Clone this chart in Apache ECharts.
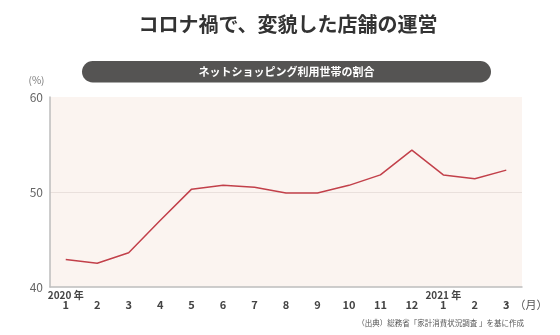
<!DOCTYPE html>
<html>
<head>
<meta charset="utf-8">
<script src="https://cdn.jsdelivr.net/npm/echarts@6/dist/echarts.min.js"></script>
<style>
html,body{margin:0;padding:0;background:#fff;}
#c{width:560px;height:335px;}
</style>
</head>
<body>
<div id="c"></div>
<script>
var titleText = 'コロナ禍で、変貌した店舗の運営';
var subtitleText = 'ネットショッピング利用世帯の割合';
var months = ['1','2','3','4','5','6','7','8','9','10','11','12','1','2','3'];
var yearLabels = ['2020 年','','','','','','','','','','','','2021 年','',''];
var shareValues = [42.9, 42.5, 43.6, 47.0, 50.3, 50.7, 50.5, 49.9, 49.9, 50.7, 51.8, 54.4, 51.8, 51.4, 52.3];
var yTicks = [40, 50, 60];
var unitY = '(%)';
var unitX = '（月）';
var sourceText = '（出典）総務省「家計消費状況調査 」を基に作成';

var FONT = '"Noto Sans CJK JP", "Noto Sans", sans-serif';
var chart = echarts.init(document.getElementById('c'));
chart.setOption({
  backgroundColor: '#ffffff',
  animation: false,
  textStyle: { fontFamily: FONT },
  title: {
    text: titleText,
    left: 283, top: 9, textAlign: 'center',
    textStyle: { fontSize: 20, fontWeight: 'bold', color: '#333333', fontFamily: FONT }
  },
  graphic: [
    { type: 'rect', shape: { x: 82, y: 61, width: 409, height: 21.5, r: 10.75 },
      style: { fill: '#555453' }, z: 10 },
    { type: 'text', x: 286.5, y: 71.8, z: 11,
      style: { text: subtitleText, fill: '#ffffff', font: 'bold 11px ' + FONT, textAlign: 'center', textVerticalAlign: 'middle' } },
    { type: 'text', x: 36.5, y: 80, z: 11,
      style: { text: unitY, fill: '#777777', font: '10px ' + FONT, textAlign: 'center', textVerticalAlign: 'middle' } },
    { type: 'text', x: 531, y: 304.5, z: 11,
      style: { text: unitX, fill: '#555555', font: '11px ' + FONT, textAlign: 'center', textVerticalAlign: 'middle' } },
    { type: 'text', x: 524, y: 323, z: 11,
      style: { text: sourceText, fill: '#555555', font: '7.5px ' + FONT, textAlign: 'right', textVerticalAlign: 'middle' } }
  ],
  grid: {
    left: 50, right: 38, top: 97, bottom: 48,
    show: true, backgroundColor: '#fbf4f0', borderWidth: 0
  },
  xAxis: {
    type: 'category',
    data: months,
    boundaryGap: true,
    axisLine: { lineStyle: { color: '#bdbdbd', width: 1.5 } },
    axisTick: { alignWithLabel: true, inside: true, length: 3, lineStyle: { color: '#bdbdbd' } },
    axisLabel: {
      margin: 3,
      interval: 0,
      formatter: function (v, i) {
        var y = yearLabels[i] ? yearLabels[i] : ' ';
        return '{y|' + y + '}\n{m|' + v + '}';
      },
      rich: {
        y: { fontSize: 10, fontWeight: 'bold', color: '#444444', lineHeight: 10, fontFamily: FONT },
        m: { fontSize: 11, fontWeight: 'bold', color: '#444444', lineHeight: 10, fontFamily: FONT }
      }
    }
  },
  yAxis: {
    type: 'value',
    min: yTicks[0], max: yTicks[yTicks.length - 1], interval: 10,
    axisLine: { show: true, lineStyle: { color: '#bdbdbd', width: 1.5 } },
    axisTick: { show: false },
    axisLabel: { margin: 7, fontSize: 12, color: '#666666', fontFamily: FONT },
    splitLine: { show: true, lineStyle: { color: ['transparent', '#e9e0dc', 'transparent'], width: 1 } }
  },
  series: [{
    type: 'line',
    data: shareValues,
    symbol: 'none',
    lineStyle: { color: '#c2404a', width: 1.5 },
    z: 5
  }]
});
</script>
</body>
</html>
